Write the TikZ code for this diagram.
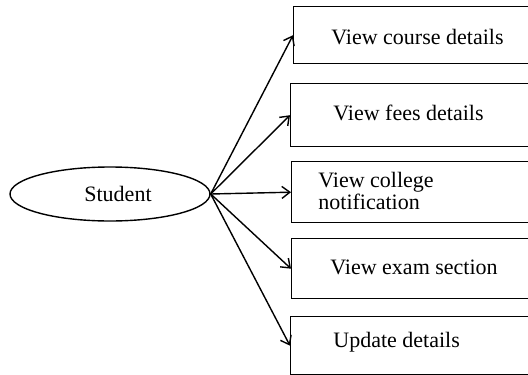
\documentclass[tikz,border=0pt]{standalone}
\usepackage{fontspec}
\setmainfont{Liberation Serif}
\usetikzlibrary{arrows.meta, positioning, shapes.geometric}

\begin{document}
\begin{tikzpicture}[
  x=0.5pt, y=-0.5pt,
  font=\fontsize{11}{12.5}\selectfont,
  actor/.style={draw, ellipse, line width=0.7pt, minimum width=100pt, minimum height=27pt, inner sep=0pt},
  ucbox/.style={draw, rectangle, line width=0.7pt, anchor=north west, minimum width=130pt, inner sep=0pt},
  uctext/.style={anchor=west, align=left, inner sep=0pt},
  link/.style={-{Straight Barb[length=4pt, width=6pt]}, line width=0.7pt},
]
  \useasboundingbox (0,0) rectangle (528,374);

  % Actor
  \node[actor] (student) at (110,194) {\hspace{8pt}Student};

  % Use case boxes (right side runs off the page)
  \node[ucbox, minimum height=28.5pt] (course) at (293,6) {};
  \node[ucbox, minimum height=31.5pt] (fees) at (290,83) {};
  \node[ucbox, minimum height=30.5pt] (notice) at (291,161) {};
  \node[ucbox, minimum height=30pt] (exam) at (291,238) {};
  \node[ucbox, minimum height=29pt] (update) at (290,316) {};

  % Box texts
  \node[uctext] at ([xshift=19pt, yshift=-1pt]course.west) {View course details};
  \node[uctext] at ([xshift=21.5pt, yshift=1pt]fees.west) {View fees details};
  \node[uctext, font=\fontsize{11}{10}\selectfont] at ([xshift=13.5pt, yshift=0.5pt]notice.west) {View college\\notification};
  \node[uctext] at ([xshift=19.5pt, yshift=0.5pt]exam.west) {View exam section};
  \node[uctext] at ([xshift=21.5pt, yshift=1.5pt]update.west) {Update details};

  % Connectors
  \foreach \uc in {course, fees, notice, exam, update} {
    \draw[link] (student.east) -- (\uc.west);
  }
\end{tikzpicture}
\end{document}
